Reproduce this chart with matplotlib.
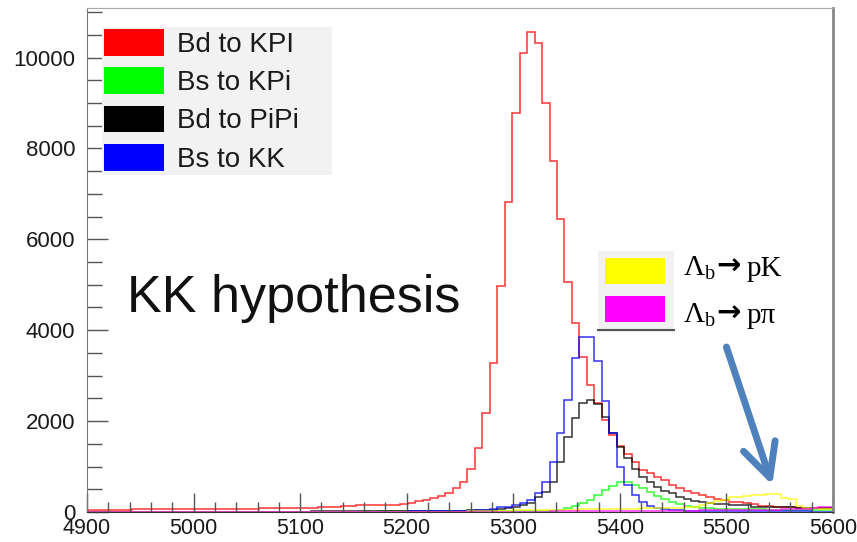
import numpy as np
import matplotlib.pyplot as plt
from matplotlib.patches import Patch
from matplotlib.lines import Line2D
from matplotlib.ticker import MultipleLocator

plt.rcParams['font.family'] = ['Liberation Sans', 'DejaVu Sans']
plt.rcParams['mathtext.fontset'] = 'custom'
plt.rcParams['mathtext.rm'] = 'Liberation Serif'
plt.rcParams['mathtext.it'] = 'Liberation Serif:italic'

# invariant mass window (MeV), 7 MeV bins
m_lo, m_hi, n_bins = 4900, 5600, 100

bd_kpi = [45, 48, 50, 52, 50, 55, 60, 62, 60, 65,
          63, 62, 65, 68, 66, 64, 67, 70, 68, 70,
          72, 70, 75, 88, 90, 92, 90, 95, 93, 96,
          98, 115, 118, 120, 122, 125, 150, 155, 158, 160,
          162, 165, 168, 205, 240, 275, 310, 345, 410, 520,
          650, 950, 1400, 2170, 3280, 4970, 6815, 8770, 10110, 10565,
          10330, 9010, 7730, 6450, 5060, 4160, 3410, 2790, 2390, 2020,
          1690, 1450, 1280, 1105, 920, 850, 775, 700, 595, 520,
          470, 410, 375, 320, 280, 275, 228, 225, 190, 185,
          140, 135, 105, 100, 100, 82, 80, 80, 78, 78]

bs_kpi = [4, 5, 4, 6, 5, 5, 6, 5, 7, 6,
          6, 7, 6, 8, 7, 7, 8, 7, 8, 8,
          8, 9, 8, 9, 9, 9, 10, 9, 10, 10,
          10, 10, 11, 10, 11, 11, 11, 12, 11, 12,
          12, 12, 12, 12, 13, 13, 13, 13, 14, 14,
          14, 14, 15, 15, 15, 15, 12, 15, 18, 20,
          22, 25, 30, 50, 80, 132, 190, 264, 373, 483,
          580, 660, 665, 600, 520, 430, 350, 280, 230, 180,
          135, 105, 88, 78, 72, 70, 68, 65, 62, 60,
          58, 55, 52, 50, 48, 46, 44, 42, 40, 40]

bd_pipi = [5, 4, 6, 5, 5, 6, 5, 6, 7, 6,
           6, 7, 7, 6, 8, 7, 8, 8, 7, 9,
           8, 9, 9, 10, 9, 10, 10, 11, 10, 11,
           12, 12, 13, 13, 14, 14, 15, 15, 16, 16,
           17, 17, 18, 18, 18, 22, 25, 27, 28, 30,
           32, 35, 38, 42, 50, 62, 80, 110, 154, 190,
           336, 446, 666, 1105, 1654, 2058, 2400, 2475, 2387, 2094,
           1728, 1434, 1179, 950, 775, 666, 542, 468, 410, 336,
           285, 248, 210, 200, 178, 172, 155, 152, 150, 120,
           117, 115, 105, 103, 100, 98, 82, 80, 80, 78]

bs_kk = [3, 4, 3, 4, 4, 5, 4, 5, 5, 4,
         5, 5, 6, 5, 6, 6, 5, 6, 6, 7,
         6, 7, 7, 7, 8, 7, 8, 8, 8, 9,
         8, 9, 9, 9, 10, 9, 10, 10, 10, 10,
         11, 11, 11, 12, 12, 20, 22, 25, 25, 28,
         30, 30, 35, 45, 66, 103, 120, 154, 200, 264,
         410, 666, 1105, 1728, 2460, 3389, 3850, 3850, 3323, 2438,
         1730, 995, 590, 380, 220, 140, 90, 60, 45, 38,
         32, 28, 27, 25, 24, 23, 22, 21, 20, 19,
         18, 17, 16, 15, 14, 13, 12, 11, 10, 10]

lb_pk = [0, 0, 1, 0, 1, 1, 0, 1, 1, 1,
         1, 1, 2, 1, 2, 2, 1, 2, 2, 2,
         2, 2, 3, 2, 3, 3, 3, 3, 3, 4,
         3, 4, 4, 4, 4, 4, 5, 4, 5, 5,
         5, 5, 5, 5, 5, 6, 6, 6, 6, 6,
         10, 12, 15, 18, 20, 30, 32, 35, 38, 40,
         45, 48, 50, 52, 55, 55, 58, 60, 62, 65,
         68, 70, 72, 75, 78, 80, 82, 85, 90, 95,
         100, 120, 150, 200, 250, 270, 320, 335, 350, 370,
         385, 395, 390, 310, 295, 140, 85, 80, 75, 75]

lb_ppi = [0, 0, 0, 0, 0, 0, 0, 0, 0, 0,
          0, 0, 0, 1, 0, 1, 1, 0, 1, 1,
          1, 1, 1, 1, 1, 2, 1, 2, 2, 2,
          2, 2, 2, 3, 2, 3, 3, 3, 3, 3,
          3, 4, 3, 4, 4, 4, 4, 4, 5, 5,
          5, 5, 5, 6, 6, 6, 6, 7, 7, 7,
          10, 11, 12, 13, 14, 15, 16, 17, 18, 19,
          20, 21, 22, 22, 23, 24, 24, 25, 25, 26,
          30, 32, 34, 36, 38, 40, 42, 44, 46, 48,
          50, 52, 55, 57, 60, 62, 75, 90, 100, 110]

labels_b = ['Bd to KPI', 'Bs to KPi', 'Bd to PiPi', 'Bs to KK']
lb_final = ['pK', 'pπ']

colors_b = ['#ff0000', '#00ff00', '#000000', '#0000ff']
colors_lb = ['#ffff00', '#ff00ff']

W, H = 857, 542
fig = plt.figure(figsize=(W / 100, H / 100), dpi=100)
ax = fig.add_axes([87 / W, 30 / H, 746 / W, 504 / H])

edges = np.linspace(m_lo, m_hi, n_bins + 1)
series = [(bd_kpi, colors_b[0]), (bs_kpi, colors_b[1]), (bd_pipi, colors_b[2]),
          (bs_kk, colors_b[3]), (lb_pk, colors_lb[0]), (lb_ppi, colors_lb[1])]
for vals, c in series:
    ax.stairs(vals, edges, color=c, lw=1.1, alpha=0.8, baseline=0)

ax.set_xlim(m_lo, m_hi)
ax.set_ylim(0, 11090)
ax.xaxis.set_major_locator(MultipleLocator(100))
ax.xaxis.set_minor_locator(MultipleLocator(20))
ax.yaxis.set_major_locator(MultipleLocator(2000))
ax.yaxis.set_minor_locator(MultipleLocator(500))
ax.tick_params(axis='both', which='both', direction='in', color='#555555',
               labelsize=16, labelcolor='#1a1a1a', width=1)
ax.tick_params(axis='x', which='major', length=14, pad=4, labelsize=15.5)
ax.tick_params(axis='x', which='minor', length=7)
ax.tick_params(axis='y', which='major', length=15, pad=8.5)
ax.tick_params(axis='y', which='minor', length=11)

ax.spines['left'].set_color('#777777')
ax.spines['bottom'].set_color('#333333')
ax.spines['top'].set_color('#aaaaaa')
ax.spines['right'].set_color('#888888')
ax.spines['right'].set_linewidth(2)

# B-meson legend
h1 = [Patch(facecolor=c, edgecolor='none') for c in colors_b]
leg1 = ax.legend(h1, labels_b, loc='upper left',
                 bbox_to_anchor=(102 / W, 1 - 176 / H, 230 / W, 149 / H),
                 bbox_transform=fig.transFigure, mode='expand',
                 fontsize=20, handlelength=2.16, handleheight=1.1,
                 handletextpad=0.45, borderpad=0.08, labelspacing=0.34,
                 borderaxespad=0, fancybox=False, facecolor='#f2f2f2',
                 edgecolor='none', framealpha=1)
for t in leg1.get_texts():
    t.set_color('#1a1a1a')
ax.add_artist(leg1)

# Lambda_b legend boxes, labels set beside them
h2 = [Patch(facecolor=c, edgecolor='none') for c in colors_lb]
leg2 = ax.legend(h2, ['', ''], loc='upper left',
                 bbox_to_anchor=(598 / W, 1 - 330 / H, 76 / W, 79 / H),
                 bbox_transform=fig.transFigure, mode='expand',
                 fontsize=20, handlelength=2.16, handleheight=1.05,
                 handletextpad=0, borderpad=0.25, labelspacing=0.36,
                 borderaxespad=0, fancybox=False, facecolor='#f2f2f2',
                 edgecolor='none', framealpha=1)
fig.add_artist(Line2D([598 / W, 674 / W], [1 - 330 / H, 1 - 330 / H],
                      transform=fig.transFigure, color='#555555', lw=1.5))

for fin, yb in zip(lb_final, [276, 323]):
    y = 1 - yb / H
    fig.text(683 / W, y, r'$\Lambda_{\mathrm{b}}$', fontsize=21, va='baseline')
    fig.text(716 / W, y + 1 / H, '→', fontsize=21, va='baseline',
             family='DejaVu Sans', fontweight='bold')
    fig.text(747 / W, y, fin, fontsize=21, va='baseline',
             family=['Liberation Serif', 'DejaVu Serif'])

fig.text(127 / W, 1 - 312 / H, 'KK hypothesis', fontsize=37.5, va='baseline',
         color='#111111')

ax.annotate('', xy=(5543, 594), xytext=(5500, 3630),
            arrowprops=dict(arrowstyle='->,head_length=1.2,head_width=0.6',
                            mutation_scale=20, lw=5, color='#4f81bd',
                            shrinkA=0, shrinkB=0))

fig.savefig('out.png', dpi=100)
